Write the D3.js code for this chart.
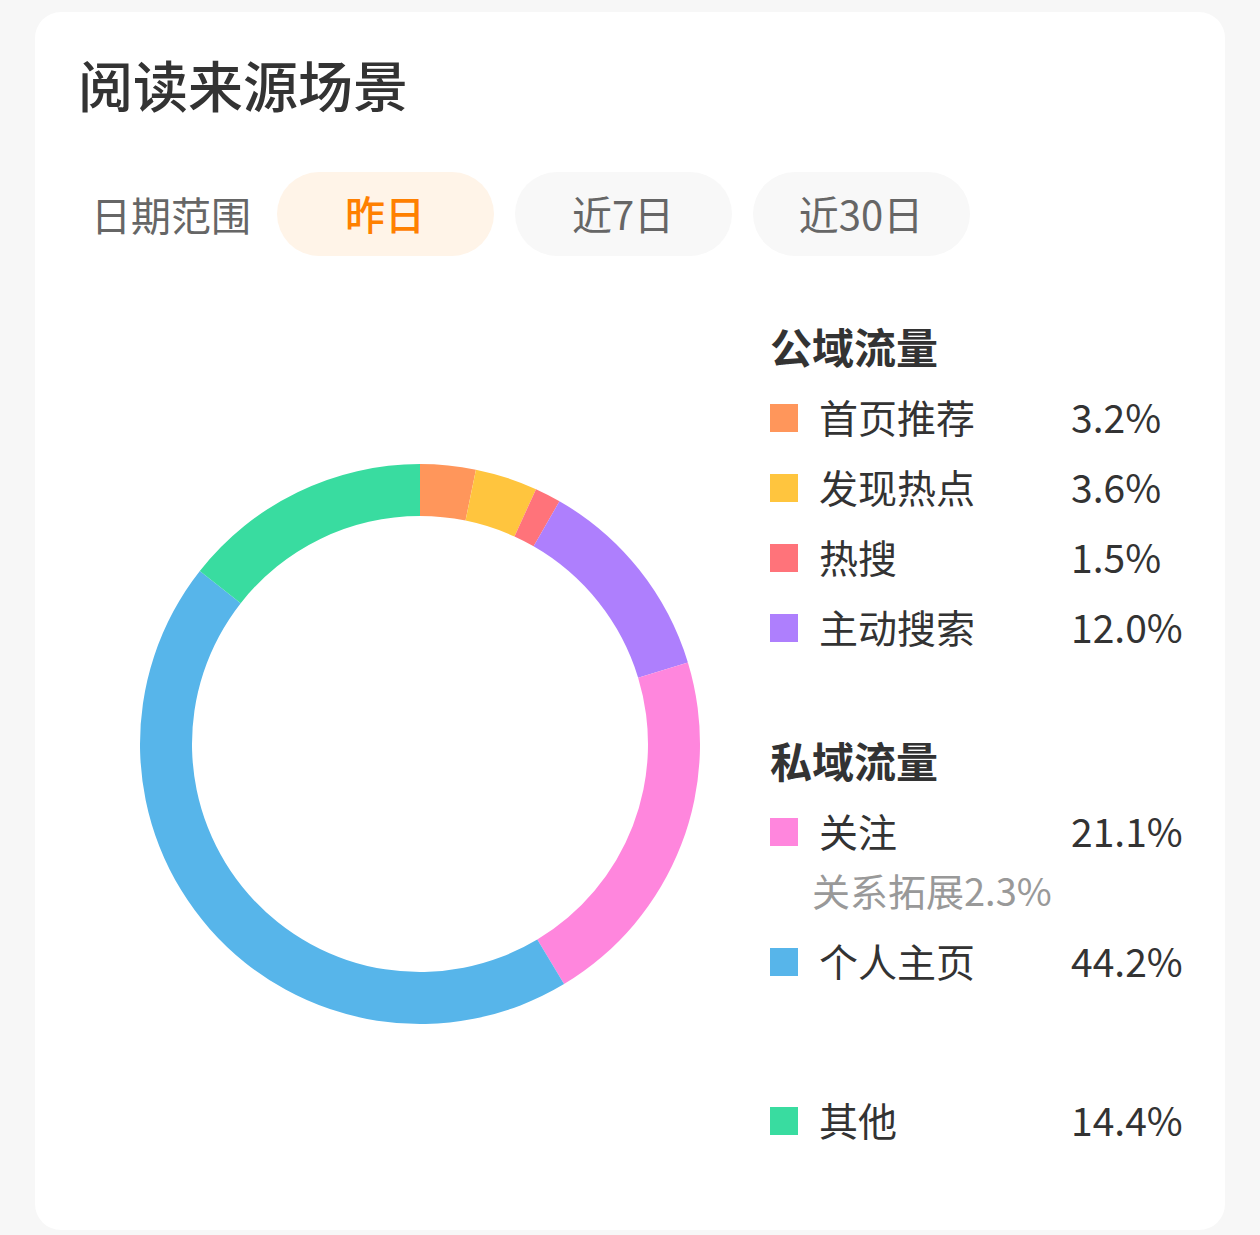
<!DOCTYPE html>
<html>
<head>
<meta charset="utf-8">
<script src="https://cdn.jsdelivr.net/npm/d3@7"></script>
<style>
  html, body { margin: 0; padding: 0; background: #f7f7f7; }
  svg { display: block; font-family: "Noto Sans CJK SC", "Noto Sans", sans-serif; }
</style>
</head>
<body>
<div class="container"></div>
<script>
// data
const sources = ["首页推荐", "发现热点", "热搜", "主动搜索", "关注", "个人主页", "其他"];
const shares = [3.2, 3.6, 1.5, 12.0, 21.1, 44.2, 14.4];
const groups = ["公域流量", "公域流量", "公域流量", "公域流量", "私域流量", "私域流量", ""];
const colors = ["#ff965b", "#ffc53e", "#ff737a", "#ae7ffd", "#ff86dd", "#57b5ea", "#39dca0"];
const notes = { "关注": "关系拓展2.3%" };
const ranges = ["昨日", "近7日", "近30日"];

const width = 1260, height = 1235;

const svg = d3.select(".container")
				.append("svg")
					.attr("width", width)
					.attr("height", height);

// card
svg.append("rect")
	.attr("x", 35).attr("y", 12)
	.attr("width", 1190).attr("height", 1218)
	.attr("rx", 26)
	.style("fill", "#fff");

svg.append("text")
	.attr("x", 78).attr("y", 107)
	.text("阅读来源场景")
	.style("font-size", "55px")
	.style("font-weight", 500)
	.style("fill", "#333");

// date range tabs
svg.append("text")
	.attr("x", 91).attr("y", 231)
	.text("日期范围")
	.style("font-size", "40px")
	.style("fill", "#666");

const scaleTab = d3.scalePoint().domain(ranges).range([385, 861]);

const tabs = svg.selectAll(".tab")
				.data(ranges).enter()
				.append("g")
					.attr("class", "tab")
					.attr("transform", (d) => `translate(${scaleTab(d)},214)`);
tabs.append("rect")
	.attr("x", -108).attr("y", -42)
	.attr("width", 217).attr("height", 84)
	.attr("rx", 42)
	.style("fill", (d, i) => i === 0 ? "#fff4e8" : "#f8f8f8");
tabs.append("text")
	.attr("text-anchor", "middle")
	.attr("y", 16)
	.text((d) => d)
	.style("font-size", "40px")
	.style("font-weight", (d, i) => i === 0 ? 500 : 400)
	.style("fill", (d, i) => i === 0 ? "#ff8000" : "#666");

// donut
const pie = d3.pie().sort(null).value((d) => d.value);
const arc = d3.arc().innerRadius(228).outerRadius(280);
const table = sources.map((name, i) => ({ name, value: shares[i], color: colors[i], group: groups[i] }));

svg.append("g")
	.attr("transform", "translate(420,744)")
	.selectAll("path")
		.data(pie(table)).enter()
	.append("path")
		.attr("d", arc)
		.style("fill", (d) => d.data.color);

// legend
const rows = [];
let cursor = 348;
let lastGroup = null;
table.forEach((d) => {
	if (d.group !== lastGroup) {
		if (lastGroup !== null) cursor += d.group ? 64 : 89;
		if (d.group) {
			rows.push({ title: d.group, y: cursor });
			cursor += 70;
		}
		lastGroup = d.group;
	}
	rows.push({ item: d, y: cursor });
	cursor += notes[d.name] ? 130 : 70;
});

const legend = svg.append("g").attr("class", "legend");

legend.selectAll(".group-title")
	.data(rows.filter((r) => r.title)).enter()
	.append("text")
		.attr("class", "group-title")
		.attr("x", 770)
		.attr("y", (r) => r.y + 16)
		.text((r) => r.title)
		.style("font-size", "42px")
		.style("font-weight", 700)
		.style("fill", "#333");

const items = legend.selectAll(".item")
				.data(rows.filter((r) => r.item)).enter()
				.append("g")
					.attr("class", "item")
					.attr("transform", (r) => `translate(770,${r.y})`);

items.append("rect")
	.attr("y", -14)
	.attr("width", 28).attr("height", 28)
	.style("fill", (r) => r.item.color);

items.append("text")
	.attr("x", 49).attr("y", 15)
	.text((r) => r.item.name)
	.style("font-size", "39px")
	.style("fill", "#333");

items.append("text")
	.attr("x", 301).attr("y", 15)
	.text((r) => `${r.item.value.toFixed(1)}%`)
	.style("font-size", "39px")
	.style("fill", "#333");

items.filter((r) => notes[r.item.name])
	.append("text")
	.attr("x", 42).attr("y", 74)
	.text((r) => notes[r.item.name])
	.style("font-size", "38px")
	.style("fill", "#999");
</script>
</body>
</html>
